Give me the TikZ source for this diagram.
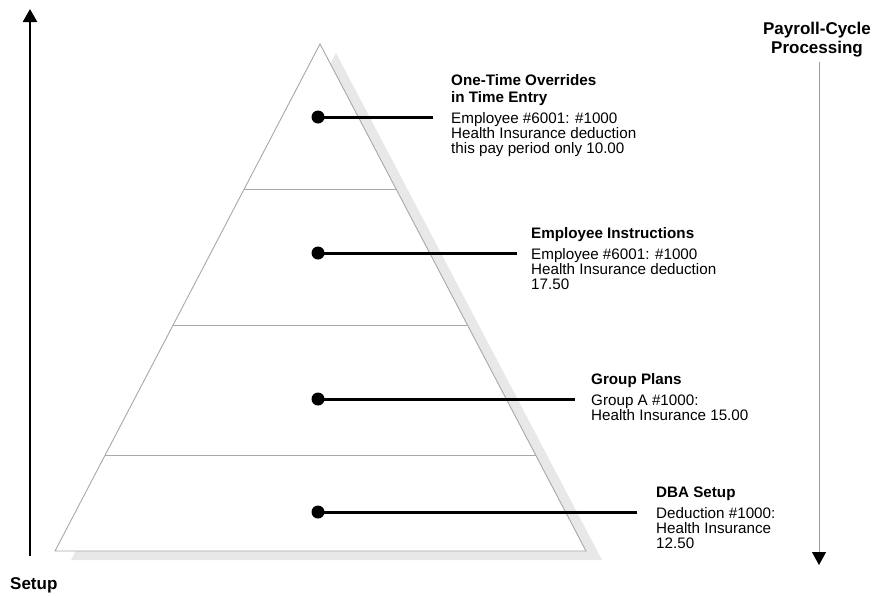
\documentclass[tikz,border=0pt]{standalone}
\usepackage{fontspec}
\setmainfont{Liberation Sans}
\usetikzlibrary{arrows.meta,calc}
\definecolor{edgegray}{HTML}{A8A8A8}
\definecolor{shadowgray}{HTML}{E8E8E8}
\definecolor{axisgray}{HTML}{9A9A9A}
\tikzset{
  tier/.style={draw=edgegray, line width=0.9pt},
  leader/.style={line width=3pt},
  pin/.style={circle, fill=black, inner sep=0pt, minimum size=13pt},
  % multi-line nodes: the base anchor sits on the last line
  tiertitle/.style={anchor=base west, inner sep=0pt, align=left,
    font=\fontsize{15.2}{16.5}\selectfont\bfseries},
  tierbody/.style={anchor=base west, inner sep=0pt, align=left,
    font=\fontsize{15.2}{15}\selectfont},
  axislabel/.style={inner sep=0pt, font=\fontsize{17}{19}\selectfont\bfseries},
}
\begin{document}
\begin{tikzpicture}[x=1pt,y=-1pt]
\useasboundingbox (0,0) rectangle (874,595);

% pyramid with its drop shadow
\coordinate (apex) at (320,44);
\coordinate (bl) at (55,551);
\coordinate (br) at (586,551);
\fill[shadowgray] (336,53) -- (602,560) -- (71,560) -- cycle;
\filldraw[fill=white, tier] (apex) -- (br) -- (bl) -- cycle;

% tier dividers
\foreach \t in {0.286,0.5542,0.8107}
  \draw[tier] ($(apex)!\t!(bl)$) -- ($(apex)!\t!(br)$);

% pins and leader lines
\node[pin] (d1) at (318,117) {};
\node[pin] (d2) at (318,253) {};
\node[pin] (d3) at (318,399) {};
\node[pin] (d4) at (318,512) {};
\coordinate (e1) at (433,117);
\coordinate (e2) at (517,253);
\coordinate (e3) at (575,399);
\coordinate (e4) at (637,512);
\foreach \i in {1,...,4}
  \draw[leader] (d\i.center) -- (e\i);

% tier texts
\node[tiertitle] (h1) at (451,102) {One-Time Overrides\\in Time Entry};
\node[tierbody]  (b1) at (451,153) {Employee \#6001: \#1000\\Health Insurance deduction\\this pay period only 10.00};
\node[tiertitle] (h2) at (531,238) {Employee Instructions};
\node[tierbody]  (b2) at (531,289) {Employee \#6001: \#1000\\Health Insurance deduction\\17.50};
\node[tiertitle] (h3) at (591,384) {Group Plans};
\node[tierbody]  (b3) at (591,420) {Group A \#1000:\\Health Insurance 15.00};
\node[tiertitle] (h4) at (656,497) {DBA Setup};
\node[tierbody]  (b4) at (656,548) {Deduction \#1000:\\Health Insurance\\12.50};

% axes
\coordinate (sb) at (30,556);
\coordinate (st) at (30,9);
\draw[line width=2.5pt, -{Triangle[length=13pt,width=14pt]}] (sb) -- (st);
\node[axislabel, anchor=base west] (setup) at (10,589) {Setup};

\coordinate (pt) at (819,62);
\coordinate (pb) at (819,565);
\draw[axisgray, line width=1pt, -{Triangle[length=13pt,width=14pt,color=black]}] (pt) -- (pb);
\node[axislabel, align=center] (cycle) at (817,40) {Payroll-Cycle\\Processing};
\end{tikzpicture}
\end{document}
